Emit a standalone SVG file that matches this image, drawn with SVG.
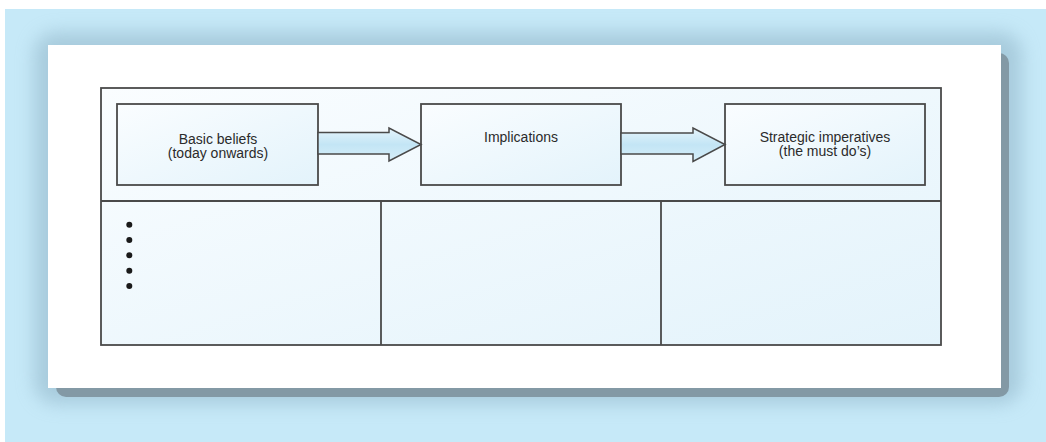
<svg xmlns="http://www.w3.org/2000/svg" width="1046" height="442" viewBox="0 0 1046 442">
<style>
.frame{stroke:#4a4a4a;stroke-width:1.8;fill:url(#cell)}
.box{stroke:#4a4a4a;stroke-width:1.8;fill:url(#cell)}
.line{stroke:#4a4a4a;stroke-width:1.8;fill:none}
.arrow{stroke:#4a4a4a;stroke-width:1.5;fill:url(#arr);stroke-linejoin:miter}
.t{font-family:"Liberation Sans",Arial,sans-serif;font-size:14px;fill:#2b2b2b;text-anchor:middle}
.dot{fill:#1a1a1a}
</style>
<defs>
<linearGradient id="cell" x1="0" y1="0" x2="1" y2="1">
<stop offset="0" stop-color="#fafdff"/>
<stop offset="1" stop-color="#e3f3fb"/>
</linearGradient>
<linearGradient id="arr" x1="0" y1="0" x2="0" y2="1">
<stop offset="0" stop-color="#e6f5fc"/>
<stop offset="0.5" stop-color="#c3e5f5"/>
<stop offset="1" stop-color="#d6eef9"/>
</linearGradient>
<filter id="halo" x="-10%" y="-20%" width="120%" height="140%">
<feGaussianBlur stdDeviation="9"/>
</filter>
</defs>
<rect x="5" y="9" width="1041" height="433" fill="#c6e9f8"/>
<rect x="34" y="32" width="988" height="372" rx="22" fill="#8fb3c6" opacity="0.55" filter="url(#halo)"/>
<rect x="56" y="53" width="953" height="344" rx="10" fill="#8399a5"/>
<rect x="48" y="45" width="953" height="343" fill="#ffffff"/>
<g id="table">
<rect class="frame" x="101" y="88" width="840" height="257"/>
<line class="line" x1="101" y1="201" x2="941" y2="201"/>
<line class="line" x1="381" y1="201" x2="381" y2="345"/>
<line class="line" x1="661" y1="201" x2="661" y2="345"/>
</g>
<g id="node-basic">
<rect class="box" x="117" y="104" width="201" height="81"/>
<text class="t" x="218" y="144">Basic beliefs</text>
<text class="t" x="218" y="158">(today onwards)</text>
</g>
<g id="node-implications">
<rect class="box" x="421" y="104" width="200" height="81"/>
<text class="t" x="521" y="142">Implications</text>
</g>
<g id="node-strategic">
<rect class="box" x="725" y="104" width="200" height="81"/>
<text class="t" x="825" y="142">Strategic imperatives</text>
<text class="t" x="825" y="156">(the must do’s)</text>
</g>
<g id="connectors">
<polygon class="arrow" points="318,132.5 389,132.5 389,128 421,144.5 389,161 389,154 318,154"/>
<polygon class="arrow" points="621,133 693,133 693,128 725,144.5 693,161.5 693,154 621,154"/>
</g>
<g id="bullets">
<circle class="dot" cx="129.3" cy="224.7" r="3"/>
<circle class="dot" cx="129.3" cy="240" r="3"/>
<circle class="dot" cx="129.3" cy="255.3" r="3"/>
<circle class="dot" cx="129.3" cy="270.7" r="3"/>
<circle class="dot" cx="129.3" cy="286" r="3"/>
</g>
</svg>
